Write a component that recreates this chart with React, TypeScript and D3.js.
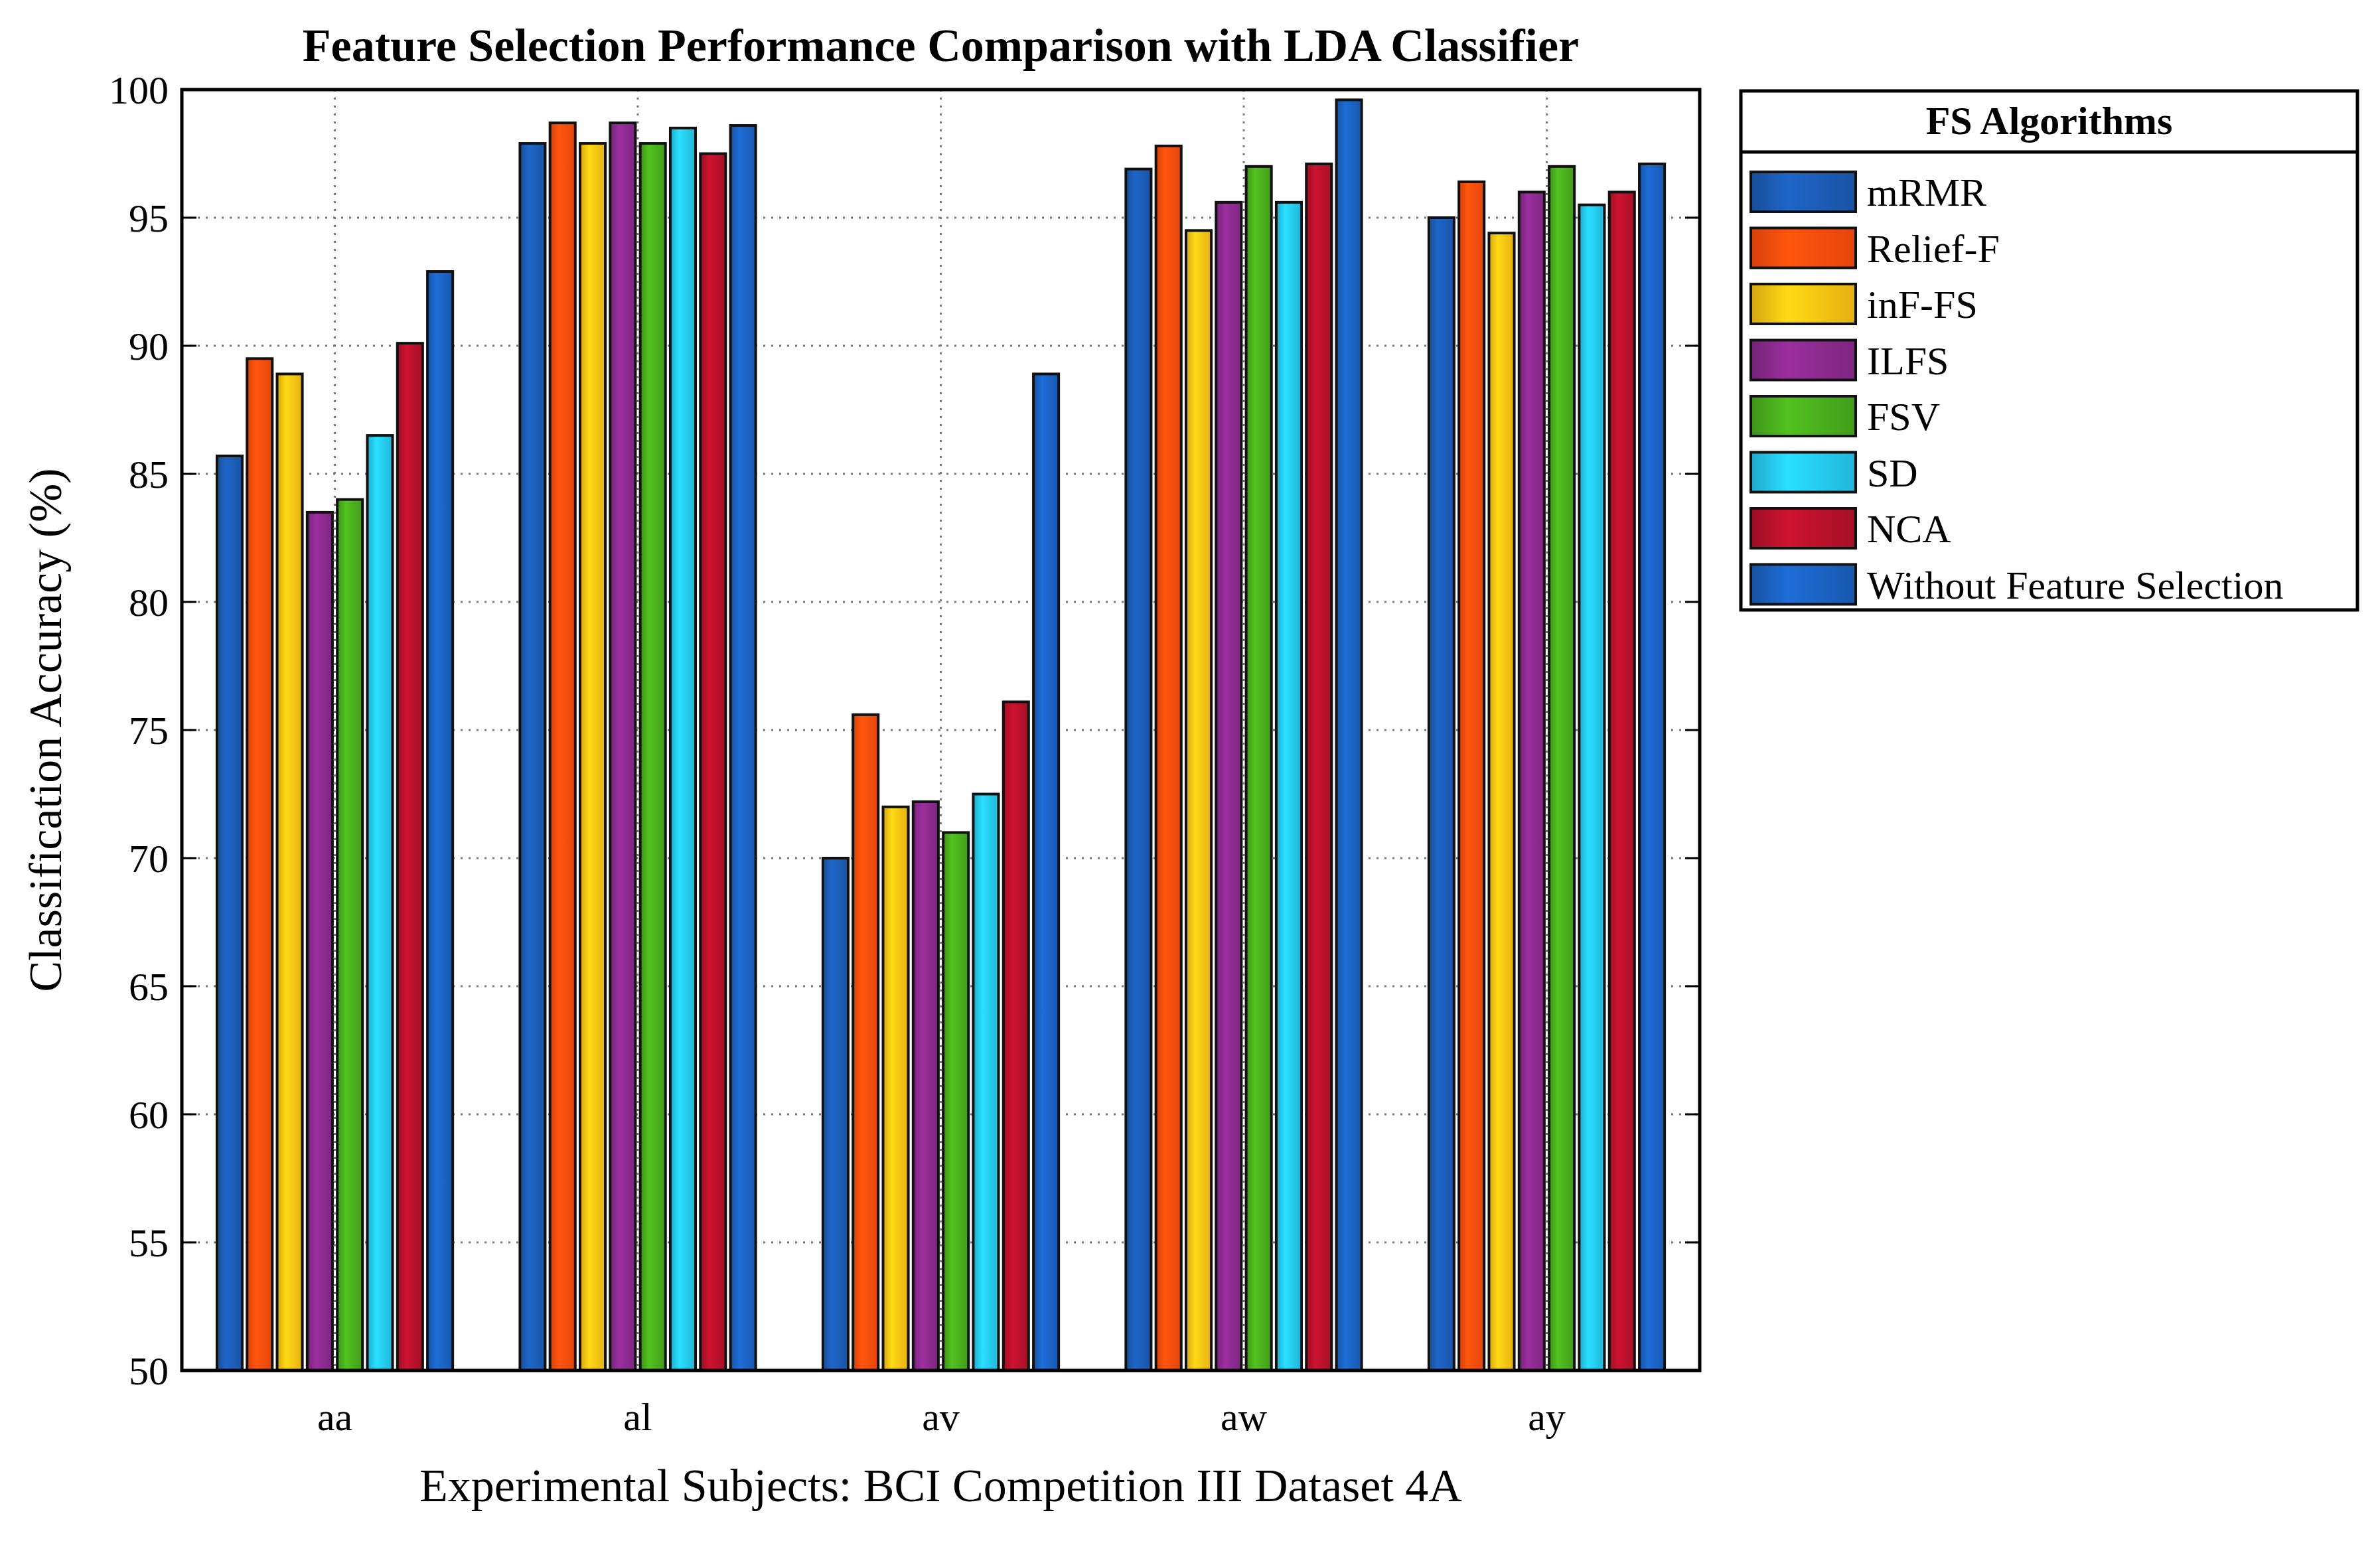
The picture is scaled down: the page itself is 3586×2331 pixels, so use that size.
import React, { useEffect } from 'react';
import * as d3 from 'd3';

const subjects = ['aa', 'al', 'av', 'aw', 'ay'];
const algorithms = ['mRMR', 'Relief-F', 'inF-FS', 'ILFS', 'FSV', 'SD', 'NCA', 'Without Feature Selection'];
const colors = ['#1c5cb5', '#ff4d0d', '#ffc414', '#8b2a8e', '#4aae1d', '#26c9f2', '#b8112b', '#1b62c2'];
// accuracy[subject][algorithm]
const accuracy = [
  [85.7, 89.5, 88.9, 83.5, 84.0, 86.5, 90.1, 92.9],
  [97.9, 98.7, 97.9, 98.7, 97.9, 98.5, 97.5, 98.6],
  [70.0, 75.6, 72.0, 72.2, 71.0, 72.5, 76.1, 88.9],
  [96.9, 97.8, 94.5, 95.6, 97.0, 95.6, 97.1, 99.6],
  [95.0, 96.4, 94.4, 96.0, 97.0, 95.5, 96.0, 97.1],
];
const yTicks = [50, 55, 60, 65, 70, 75, 80, 85, 90, 95, 100];

const W = 3586, H = 2331;
const m = { left: 274, right: 2561, top: 135, bottom: 2065 };
const font = '"Liberation Serif", "Times New Roman", serif';

export default function App() {
  useEffect(() => { document.body.style.margin = '0'; }, []);

  const x = d3.scaleBand().domain(subjects).range([m.left, m.right]).paddingInner(0.19).paddingOuter(0.1);
  const xi = d3.scaleBand().domain(algorithms).range([0, x.bandwidth()]).padding(0.16);
  const y = d3.scaleLinear().domain([50, 100]).range([m.bottom, m.top]);

  const lg = { x: 2623, y: 137, w: 929, h: 782, head: 92 };

  return (
    <svg width={W} height={H} style={{ display: 'block', background: '#fff', fontFamily: font }}>
      <defs>
        {colors.map((c, i) => (
          <linearGradient key={i} id={`g${i}`} x1="0" x2="1" y1="0" y2="0">
            <stop offset="0" stopColor={d3.color(c)!.darker(0.5).toString()} />
            <stop offset="0.35" stopColor={d3.color(c)!.brighter(0.3).toString()} />
            <stop offset="1" stopColor={d3.color(c)!.darker(0.3).toString()} />
          </linearGradient>
        ))}
      </defs>
      <text x={(m.left + m.right) / 2} y={92} textAnchor="middle" fontSize={70} fontWeight="bold">
        Feature Selection Performance Comparison with LDA Classifier
      </text>
      {yTicks.map(t => (
        <g key={t}>
          <line x1={m.left} x2={m.right} y1={y(t)} y2={y(t)} stroke="#777" strokeWidth={3} strokeDasharray="3 9" />
          <line x1={m.left} x2={m.left + 22} y1={y(t)} y2={y(t)} stroke="#000" strokeWidth={3} />
          <line x1={m.right} x2={m.right - 22} y1={y(t)} y2={y(t)} stroke="#000" strokeWidth={3} />
          <text x={m.left - 20} y={y(t)} dy="0.35em" textAnchor="end" fontSize={60}>{t}</text>
        </g>
      ))}
      {subjects.map(s => {
        const cx = x(s)! + x.bandwidth() / 2;
        return (
          <g key={s}>
            <line x1={cx} x2={cx} y1={m.top} y2={m.bottom} stroke="#777" strokeWidth={3} strokeDasharray="3 9" />
            <text x={cx} y={m.bottom + 90} textAnchor="middle" fontSize={60}>{s}</text>
          </g>
        );
      })}
      {accuracy.map((row, si) => row.map((v, ai) => (
        <rect key={`${si}-${ai}`} x={x(subjects[si])! + xi(algorithms[ai])!} y={y(v)}
          width={xi.bandwidth()} height={y(50) - y(v)} fill={`url(#g${ai})`} stroke="#111" strokeWidth={4} />
      )))}
      <rect x={m.left} y={m.top} width={m.right - m.left} height={m.bottom - m.top} fill="none" stroke="#000" strokeWidth={5} />
      <text x={(m.left + m.right) / 2} y={2262} textAnchor="middle" fontSize={70}>
        Experimental Subjects: BCI Competition III Dataset 4A
      </text>
      <text transform={`translate(92,${(m.top + m.bottom) / 2}) rotate(-90)`} textAnchor="middle" fontSize={70}>
        Classification Accuracy (%)
      </text>
      <rect x={lg.x} y={lg.y} width={lg.w} height={lg.h} fill="#fff" stroke="#000" strokeWidth={5} />
      <line x1={lg.x} x2={lg.x + lg.w} y1={lg.y + lg.head} y2={lg.y + lg.head} stroke="#000" strokeWidth={5} />
      <text x={lg.x + lg.w / 2} y={lg.y + 65} textAnchor="middle" fontSize={60} fontWeight="bold">FS Algorithms</text>
      {algorithms.map((a, i) => {
        const ry = lg.y + lg.head + 30 + i * 84.5;
        return (
          <g key={a}>
            <rect x={lg.x + 15} y={ry} width={158} height={60} fill={`url(#g${i})`} stroke="#111" strokeWidth={4} />
            <text x={lg.x + 190} y={ry + 30} dy="0.35em" fontSize={60}>{a}</text>
          </g>
        );
      })}
    </svg>
  );
}
